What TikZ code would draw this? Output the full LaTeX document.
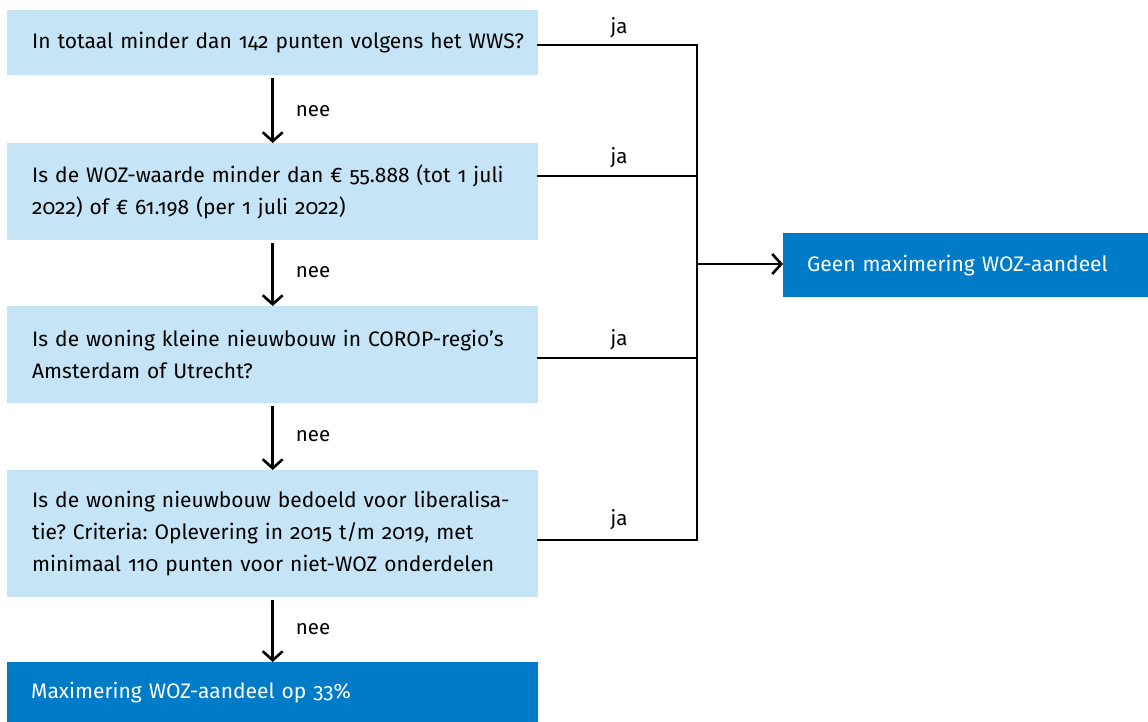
\documentclass[tikz,border=0pt]{standalone}
\usepackage{fontspec}
\setmainfont{Fira Sans}[Numbers=OldStyle]
\frenchspacing
\usetikzlibrary{arrows.meta,calc}
\definecolor{lightblue}{HTML}{C5E4F5}
\definecolor{darkblue}{HTML}{007BC7}
\tikzset{
  qbox/.style={fill=lightblue, draw=none, text width=481pt, inner xsep=25pt, align=left, anchor=north west, font=\fontsize{21}{32}\selectfont},
  abox/.style={fill=darkblue, draw=none, text=white, align=left, anchor=north west, inner xsep=24pt, font=\fontsize{21}{32}\selectfont},
  conn/.style={line width=2.6pt, line cap=rect},
  arr/.style={line width=2.6pt, -{Straight Barb[length=9pt,width=20pt,line width=2.6pt]}},
  lbl/.style={font=\fontsize{20.5}{24}\selectfont, inner sep=0pt},
}
\begin{document}
\begin{tikzpicture}[x=1pt,y=-1pt]
\useasboundingbox (0,0) rectangle (1148,722);
\node[qbox, minimum height=65pt] (b1) at (7,10) {\mbox{In totaal minder dan 142 punten volgens het WWS?}};
\node[qbox, minimum height=97pt] (b2) at (7,143) {\mbox{Is de WOZ-waarde minder dan € 55.888 (tot 1 juli}\\\mbox{2022) of € 61.198 (per 1 juli 2022)}};
\node[qbox, minimum height=97pt] (b3) at (7,306) {\mbox{Is de woning kleine nieuwbouw in COROP-regio’s}\\\mbox{Amsterdam of Utrecht?}};
\node[qbox, minimum height=127pt] (b4) at (7,470) {\mbox{Is de woning nieuwbouw bedoeld voor liberalisa-}\\\mbox{tie? Criteria: Oplevering in 2015 t/m 2019, met}\\\mbox{minimaal 110 punten voor niet-WOZ onderdelen}};
\node[abox, minimum height=60pt, text width=483pt] (b5) at (7,662) {Maximering WOZ-aandeel op 33\%};
\node[abox, minimum height=64pt, text width=317pt] (r) at (783,233) {Geen maximering WOZ-aandeel};

\coordinate (j1) at (697,45);
\coordinate (j2) at (697,176);
\coordinate (j3) at (697,358);
\coordinate (j4) at (697,540);
\coordinate (jr) at (697,264);

\draw[conn] (b1.east |- j1) -- (j1) -- (j4) -- (b4.east |- j4);
\draw[conn] (b2.east |- j2) -- (j2);
\draw[conn] (b3.east |- j3) -- (j3);
\draw[arr] (jr) -- (r.west |- jr);

\draw[arr] ($(b1.south)+(0,3)$) -- (b1.south |- b2.north);
\draw[arr] ($(b2.south)+(0,3)$) -- (b2.south |- b3.north);
\draw[arr] ($(b3.south)+(0,3)$) -- (b3.south |- b4.north);
\draw[arr] ($(b4.south)+(0,3)$) -- (b4.south |- b5.north);

\node[lbl] (n1) at (313,111) {nee};
\node[lbl] (n2) at (313,272) {nee};
\node[lbl] (n3) at (313,436) {nee};
\node[lbl] (n4) at (313,629) {nee};

\node[lbl] (y1) at (619,28) {ja};
\node[lbl] (y2) at (619,158) {ja};
\node[lbl] (y3) at (619,340) {ja};
\node[lbl] (y4) at (619,520) {ja};
\end{tikzpicture}
\end{document}
